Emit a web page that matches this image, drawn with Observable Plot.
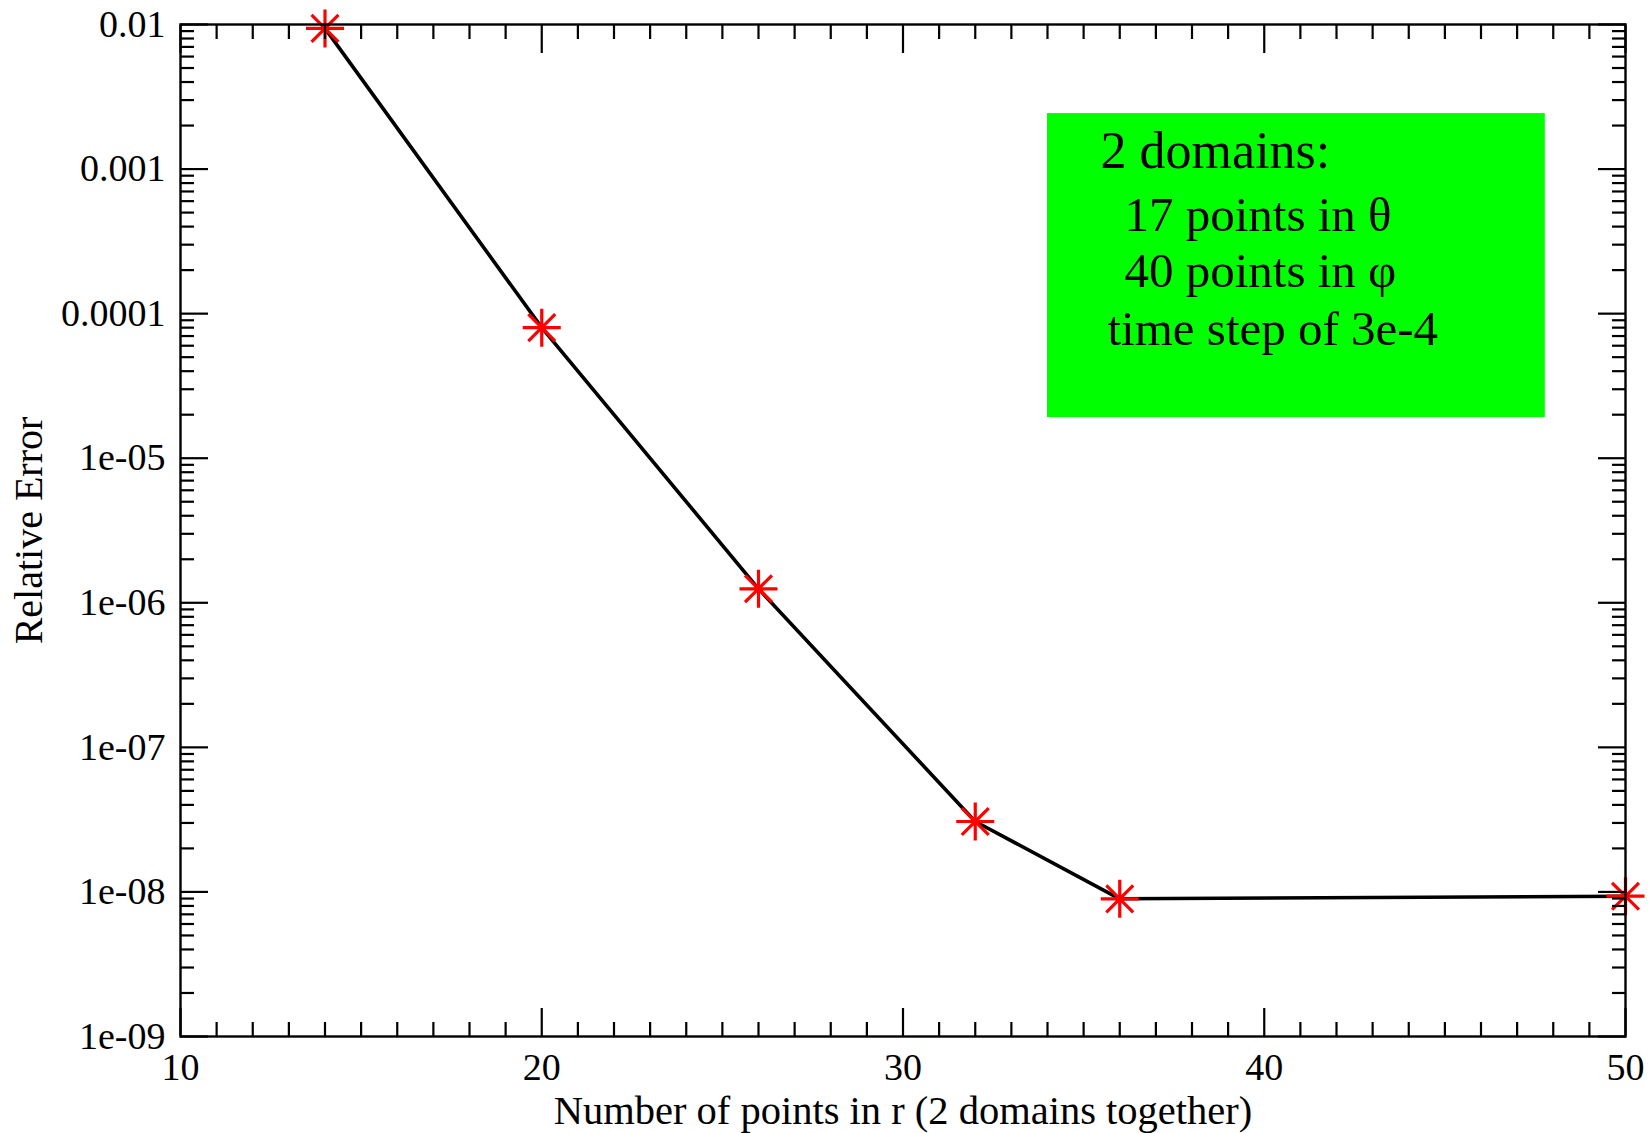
<!DOCTYPE html>
<html><head><meta charset="utf-8">
<script src="https://cdn.jsdelivr.net/npm/d3@7"></script>
<script src="https://cdn.jsdelivr.net/npm/@observablehq/plot@0.6"></script>
<style>html,body{margin:0;padding:0;background:#fff;} svg{display:block}</style>
</head><body><div id="chart"></div>
<script>
// --- data ---
const points = [14, 20, 26, 32, 36, 50];
const relErrors = [0.0094, 8.0e-5, 1.25e-6, 3.07e-8, 8.96e-9, 9.34e-9];

const xMajorTicks = [10, 20, 30, 40, 50];
const xMinorTicks = d3.range(11, 50).filter(v => v % 10 !== 0);
const yMajorTicks = [1e-9, 1e-8, 1e-7, 1e-6, 1e-5, 1e-4, 1e-3, 1e-2];
const yTickLabels = ["1e-09", "1e-08", "1e-07", "1e-06", "1e-05", "0.0001", "0.001", "0.01"];
const yMinorTicks = yMajorTicks.slice(0, -1).flatMap(d => [2, 3, 4, 5, 6, 7, 8, 9].map(m => m * d));

const xLabel = "Number of points in r (2 domains together)";
const yLabel = "Relative Error";

// annotation box (data coordinates)
const boxX = [34.0, 47.78];
const boxY = [2.42e-3, 1.91e-5];
const noteLines = ["2 domains:", "17 points in θ", "40 points in φ", "time step of 3e-4"];
const noteX = [35.47, 36.13, 36.13, 35.66];
const noteY = [1.01e-3, 3.70e-4, 1.54e-4, 6.03e-5];

// --- build tables ---
const data = points.map((n, i) => ({n, err: relErrors[i]}));
const box = [{x1: boxX[0], x2: boxX[1], y1: boxY[0], y2: boxY[1]}];
const notes = noteLines.map((t, i) => ({t, x: noteX[i], y: noteY[i]}));

const asterisk8 = {
  draw(ctx, size) {
    const r = Math.sqrt(size / Math.PI);
    for (const a of [0, 45, 90, 135]) {
      const c = Math.cos(a * Math.PI / 180) * r, s = Math.sin(a * Math.PI / 180) * r;
      ctx.moveTo(c, s); ctx.lineTo(-c, -s);
    }
  }
};

const tickStyle = {fill: "none", stroke: "black", strokeWidth: 2.2, label: null};

const chart = Plot.plot({
  width: 1650, height: 1133,
  marginLeft: 180, marginRight: 25, marginTop: 24, marginBottom: 97,
  style: {fontFamily: "'Liberation Serif', 'Times New Roman', serif", background: "white", color: "black"},
  x: {type: "linear", domain: [10, 50], label: null},
  y: {type: "log", domain: [1e-9, 1e-2], label: null},
  marks: [
    Plot.rect(box, {x1: "x1", x2: "x2", y1: "y1", y2: "y2", fill: "#00ff00"}),
    Plot.text(notes.slice(0, 1), {x: "x", y: "y", text: "t", textAnchor: "start", lineAnchor: "bottom", fontSize: 52, fill: "black"}),
    Plot.text(notes.slice(1), {x: "x", y: "y", text: "t", textAnchor: "start", lineAnchor: "bottom", fontSize: 49, fill: "black"}),
    Plot.line(data, {x: "n", y: "err", stroke: "black", strokeWidth: 3.6}),
    Plot.dot(data, {x: "n", y: "err", symbol: asterisk8, r: 19, stroke: "red", fill: "none", strokeWidth: 3.2}),
    Plot.frame({stroke: "black", strokeWidth: 2.4}),
    // inward ticks on all four sides
    Plot.axisX(xMajorTicks, {anchor: "bottom", tickSize: -28, ...tickStyle}),
    Plot.axisX(xMinorTicks, {anchor: "bottom", tickSize: -14, ...tickStyle}),
    Plot.axisX(xMajorTicks, {anchor: "top", tickSize: -28, ...tickStyle}),
    Plot.axisX(xMinorTicks, {anchor: "top", tickSize: -14, ...tickStyle}),
    Plot.axisY(yMajorTicks, {anchor: "left", tickSize: -28, ...tickStyle}),
    Plot.axisY(yMinorTicks, {anchor: "left", tickSize: -14, ...tickStyle}),
    Plot.axisY(yMajorTicks, {anchor: "right", tickSize: -28, ...tickStyle}),
    Plot.axisY(yMinorTicks, {anchor: "right", tickSize: -14, ...tickStyle}),
    // tick labels
    Plot.axisX(xMajorTicks, {anchor: "bottom", tickSize: 0, tickPadding: 17, fontSize: 38, fill: "black", label: null}),
    Plot.axisY(yMajorTicks, {anchor: "left", tickSize: 0, tickPadding: 15, fontSize: 38, fill: "black", label: null,
      tickFormat: d => yTickLabels[yMajorTicks.indexOf(d)]}),
    // axis titles
    Plot.text([xLabel], {frameAnchor: "bottom", dy: 87, fontSize: 40.5, fill: "black", textAnchor: "middle"}),
    Plot.text([yLabel], {frameAnchor: "left", rotate: -90, dx: -151, fontSize: 40, fill: "black", textAnchor: "middle", lineAnchor: "middle"})
  ]
});
document.getElementById("chart").appendChild(chart);
</script>
</body></html>
